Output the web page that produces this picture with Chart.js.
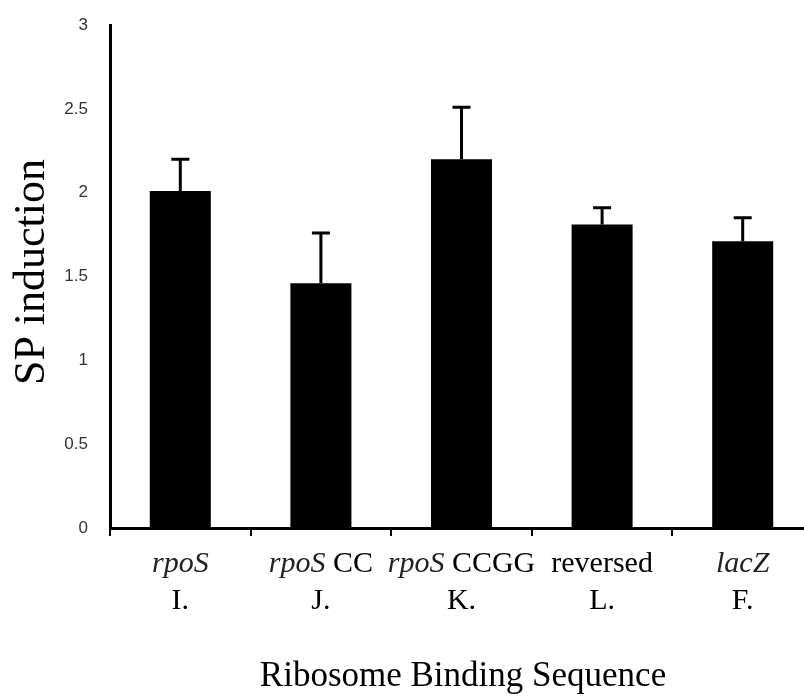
<!DOCTYPE html>
<html>
<head>
<meta charset="utf-8">
<script src="https://cdn.jsdelivr.net/npm/chart.js@4.4.0/dist/chart.umd.min.js"></script>
<style>
    html, body { margin: 0; padding: 0; background: #fff; overflow: hidden; }
    #wrap { position: absolute; left: 0; top: 0; width: 813px; height: 696px; }
</style>
</head>
<body>
<div id="wrap"><canvas id="chart"></canvas></div>
<script>
// Ribosome binding sequence variants (line 1 parts: [text, italic?]) and codes (line 2)
const labelParts = [
    [["rpoS", true]],
    [["rpoS", true], [" CC", false]],
    [["rpoS", true], [" CCGG", false]],
    [["reversed", false]],
    [["lacZ", true]]
];
const labelCodes = ["I.", "J.", "K.", "L.", "F."];
const induction = [2.01, 1.46, 2.20, 1.81, 1.71];
const inductionErr = [0.19, 0.30, 0.31, 0.10, 0.14];
const yTicks = [0, 0.5, 1, 1.5, 2, 2.5, 3];

const serif = "'Liberation Serif', 'Times New Roman', serif";

// upward-only error bars with a short cap
const errorBars = {
    id: 'errorBars',
    afterDatasetsDraw(chart) {
        const { ctx, scales: { y } } = chart;
        const meta = chart.getDatasetMeta(0);
        ctx.save();
        ctx.strokeStyle = '#000';
        ctx.lineWidth = 3;
        meta.data.forEach((bar, i) => {
            const yTop = y.getPixelForValue(induction[i] + inductionErr[i]);
            const yBase = y.getPixelForValue(induction[i]);
            ctx.beginPath();
            ctx.moveTo(bar.x, yBase);
            ctx.lineTo(bar.x, yTop);
            ctx.moveTo(bar.x - 9, yTop);
            ctx.lineTo(bar.x + 9, yTop);
            ctx.stroke();
        });
        ctx.restore();
    }
};

// two-line category labels with mixed italic, plus both axis titles
const axisText = {
    id: 'axisText',
    afterDraw(chart) {
        const { ctx, scales: { x } } = chart;
        ctx.save();
        ctx.fillStyle = '#000';
        ctx.textBaseline = 'alphabetic';
        labelParts.forEach((parts, i) => {
            const cx = x.getPixelForValue(i);
            let total = 0;
            parts.forEach(([t, it]) => {
                ctx.font = (it ? 'italic ' : '') + '30px ' + serif;
                total += ctx.measureText(t).width;
            });
            let px = cx - total / 2;
            ctx.textAlign = 'left';
            parts.forEach(([t, it]) => {
                ctx.font = (it ? 'italic ' : '') + '30px ' + serif;
                ctx.fillStyle = it ? '#222' : '#000';
                ctx.fillText(t, px, 572);
                px += ctx.measureText(t).width;
            });
            ctx.fillStyle = '#000';
            ctx.font = '30px ' + serif;
            ctx.textAlign = 'center';
            ctx.fillText(labelCodes[i], cx, 609);
        });

        ctx.font = '35px ' + serif;
        ctx.textAlign = 'center';
        ctx.fillText('Ribosome Binding Sequence', 463, 686);

        ctx.translate(44, 272);
        ctx.rotate(-Math.PI / 2);
        ctx.font = '44px ' + serif;
        ctx.fillText('SP induction', 0, 0);
        ctx.restore();
    }
};

new Chart(document.getElementById('chart'), {
    type: 'bar',
    data: {
        labels: labelCodes,
        datasets: [{
            data: induction,
            backgroundColor: '#000',
            borderWidth: 0,
            categoryPercentage: 1,
            barPercentage: 0.434
        }]
    },
    options: {
        responsive: true,
        maintainAspectRatio: false,
        animation: false,
        layout: { padding: { top: 25, left: 0, right: 0, bottom: 0 } },
        plugins: {
            legend: { display: false },
            tooltip: { enabled: false }
        },
        scales: {
            x: {
                grid: {
                    display: true,
                    drawOnChartArea: false,
                    drawTicks: true,
                    tickLength: 8,
                    color: '#000',
                    lineWidth: 2
                },
                border: { display: true, color: '#000', width: 3 },
                ticks: { display: false },
                afterFit(scale) { scale.height = 168; }
            },
            y: {
                min: 0,
                max: 3,
                grid: { display: false, drawTicks: false },
                border: { display: true, color: '#000', width: 3 },
                afterBuildTicks(scale) { scale.ticks = yTicks.map(v => ({ value: v })); },
                ticks: {
                    padding: 22,
                    color: '#333',
                    font: { family: "'Liberation Sans', Arial, sans-serif", size: 17 },
                    callback: v => String(v)
                },
                afterFit(scale) {
                    scale.width = 110;
                    scale.paddingTop = 0;
                    scale.paddingBottom = 0;
                }
            }
        }
    },
    plugins: [errorBars, axisText]
});
</script>
</body>
</html>
